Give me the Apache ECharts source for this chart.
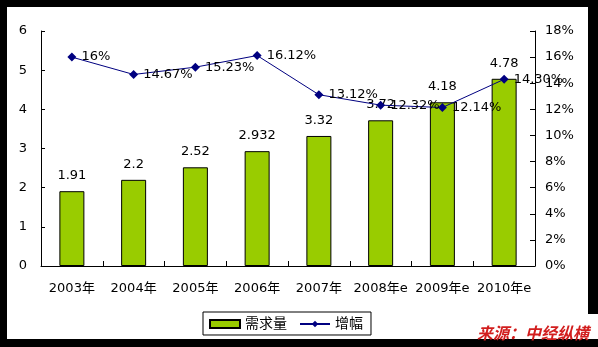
<!DOCTYPE html>
<html>
<head>
<meta charset="utf-8">
<script src="https://cdn.jsdelivr.net/npm/echarts@6/dist/echarts.min.js"></script>
<style>
html,body{margin:0;padding:0;background:#000;}
#chart{width:598px;height:347px;}
</style>
</head>
<body>
<div id="chart"></div>
<script>
// Yearly demand and growth rate
const categories = ['2003年','2004年','2005年','2006年','2007年','2008年e','2009年e','2010年e'];
const demand = [1.91, 2.2, 2.52, 2.932, 3.32, 3.72, 4.18, 4.78];
const growth = [16, 14.67, 15.23, 16.12, 13.12, 12.32, 12.14, 14.30];
const growthLabels = ['16%','14.67%','15.23%','16.12%','13.12%','12.32%','12.14%','14.30%'];
const leftTicks = [0, 6, 1];
const rightTicks = [0, 18, 2];

const chart = echarts.init(document.getElementById('chart'), null, {renderer:'canvas'});
const baseFont = '"DejaVu Sans", sans-serif';
const cjkFont = '"DejaVu Sans", "Noto Sans CJK SC", sans-serif';

chart.setOption({
  backgroundColor: '#000',
  animation: false,
  graphic: [
    {type:'rect', shape:{x:7, y:7, width:581, height:332}, style:{fill:'#fff'}, z:-10},
    {type:'rect', shape:{x:470, y:314, width:128, height:25}, style:{fill:'#fff'}, z:-10},
    {type:'text', left:477, top:325, z:100,
      style:{text:'来源：中经纵横', fill:'#D21E1E', font:'italic bold 16px "Noto Sans CJK SC", sans-serif',
        textShadowColor:'rgba(60,0,0,0.6)', textShadowOffsetX:1, textShadowOffsetY:1, textShadowBlur:0}}
  ],
  grid: {left:41, right:63, top:31, bottom:81, containLabel:false},
  legend: {
    left:203, top:312,
    padding:[5,8,4,6],
    borderColor:'#000', borderWidth:1,
    backgroundColor:'#fff',
    itemGap:12,
    itemWidth:30, itemHeight:8,
    textStyle:{fontSize:14, color:'#000', fontFamily:cjkFont, padding:[0,0,0,0]},
    data:[
      {name:'需求量', icon:'rect'},
      {name:'增幅'}
    ]
  },
  xAxis: {
    type:'category',
    data:categories,
    boundaryGap:true,
    axisLine:{lineStyle:{color:'#000', width:1}},
    axisTick:{show:true, inside:true, length:5, lineStyle:{color:'#000'}},
    axisLabel:{color:'#000', fontSize:13, fontFamily:cjkFont, margin:16, interval:0}
  },
  yAxis: [
    {
      type:'value', min:leftTicks[0], max:leftTicks[1], interval:leftTicks[2],
      splitLine:{show:false},
      axisLine:{show:true, lineStyle:{color:'#000'}},
      axisTick:{show:true, inside:true, length:4, lineStyle:{color:'#000'}},
      axisLabel:{color:'#000', fontSize:13, fontFamily:baseFont, margin:14}
    },
    {
      type:'value', min:rightTicks[0], max:rightTicks[1], interval:rightTicks[2],
      splitLine:{show:false},
      axisLine:{show:true, lineStyle:{color:'#000'}},
      axisTick:{show:true, inside:true, length:5, lineStyle:{color:'#000'}},
      axisLabel:{color:'#000', fontSize:13, fontFamily:baseFont, margin:10, formatter:'{value}%'}
    }
  ],
  series: [
    {
      name:'需求量', type:'bar', data:demand, yAxisIndex:0,
      barWidth:25,
      itemStyle:{color:'#99CC00', borderColor:'#000', borderWidth:1},
      label:{show:true, position:'top', distance:9, color:'#000', fontSize:13, fontFamily:baseFont,
        formatter:p => String(p.value)}
    },
    {
      name:'增幅', type:'line', data:growth, yAxisIndex:1,
      symbol:'diamond', symbolSize:9,
      lineStyle:{color:'#000080', width:1},
      itemStyle:{color:'#000080'},
      label:{show:true, position:'right', distance:5, color:'#000', fontSize:13, fontFamily:baseFont,
        formatter:p => growthLabels[p.dataIndex]},
      z:5
    }
  ]
});
</script>
</body>
</html>
